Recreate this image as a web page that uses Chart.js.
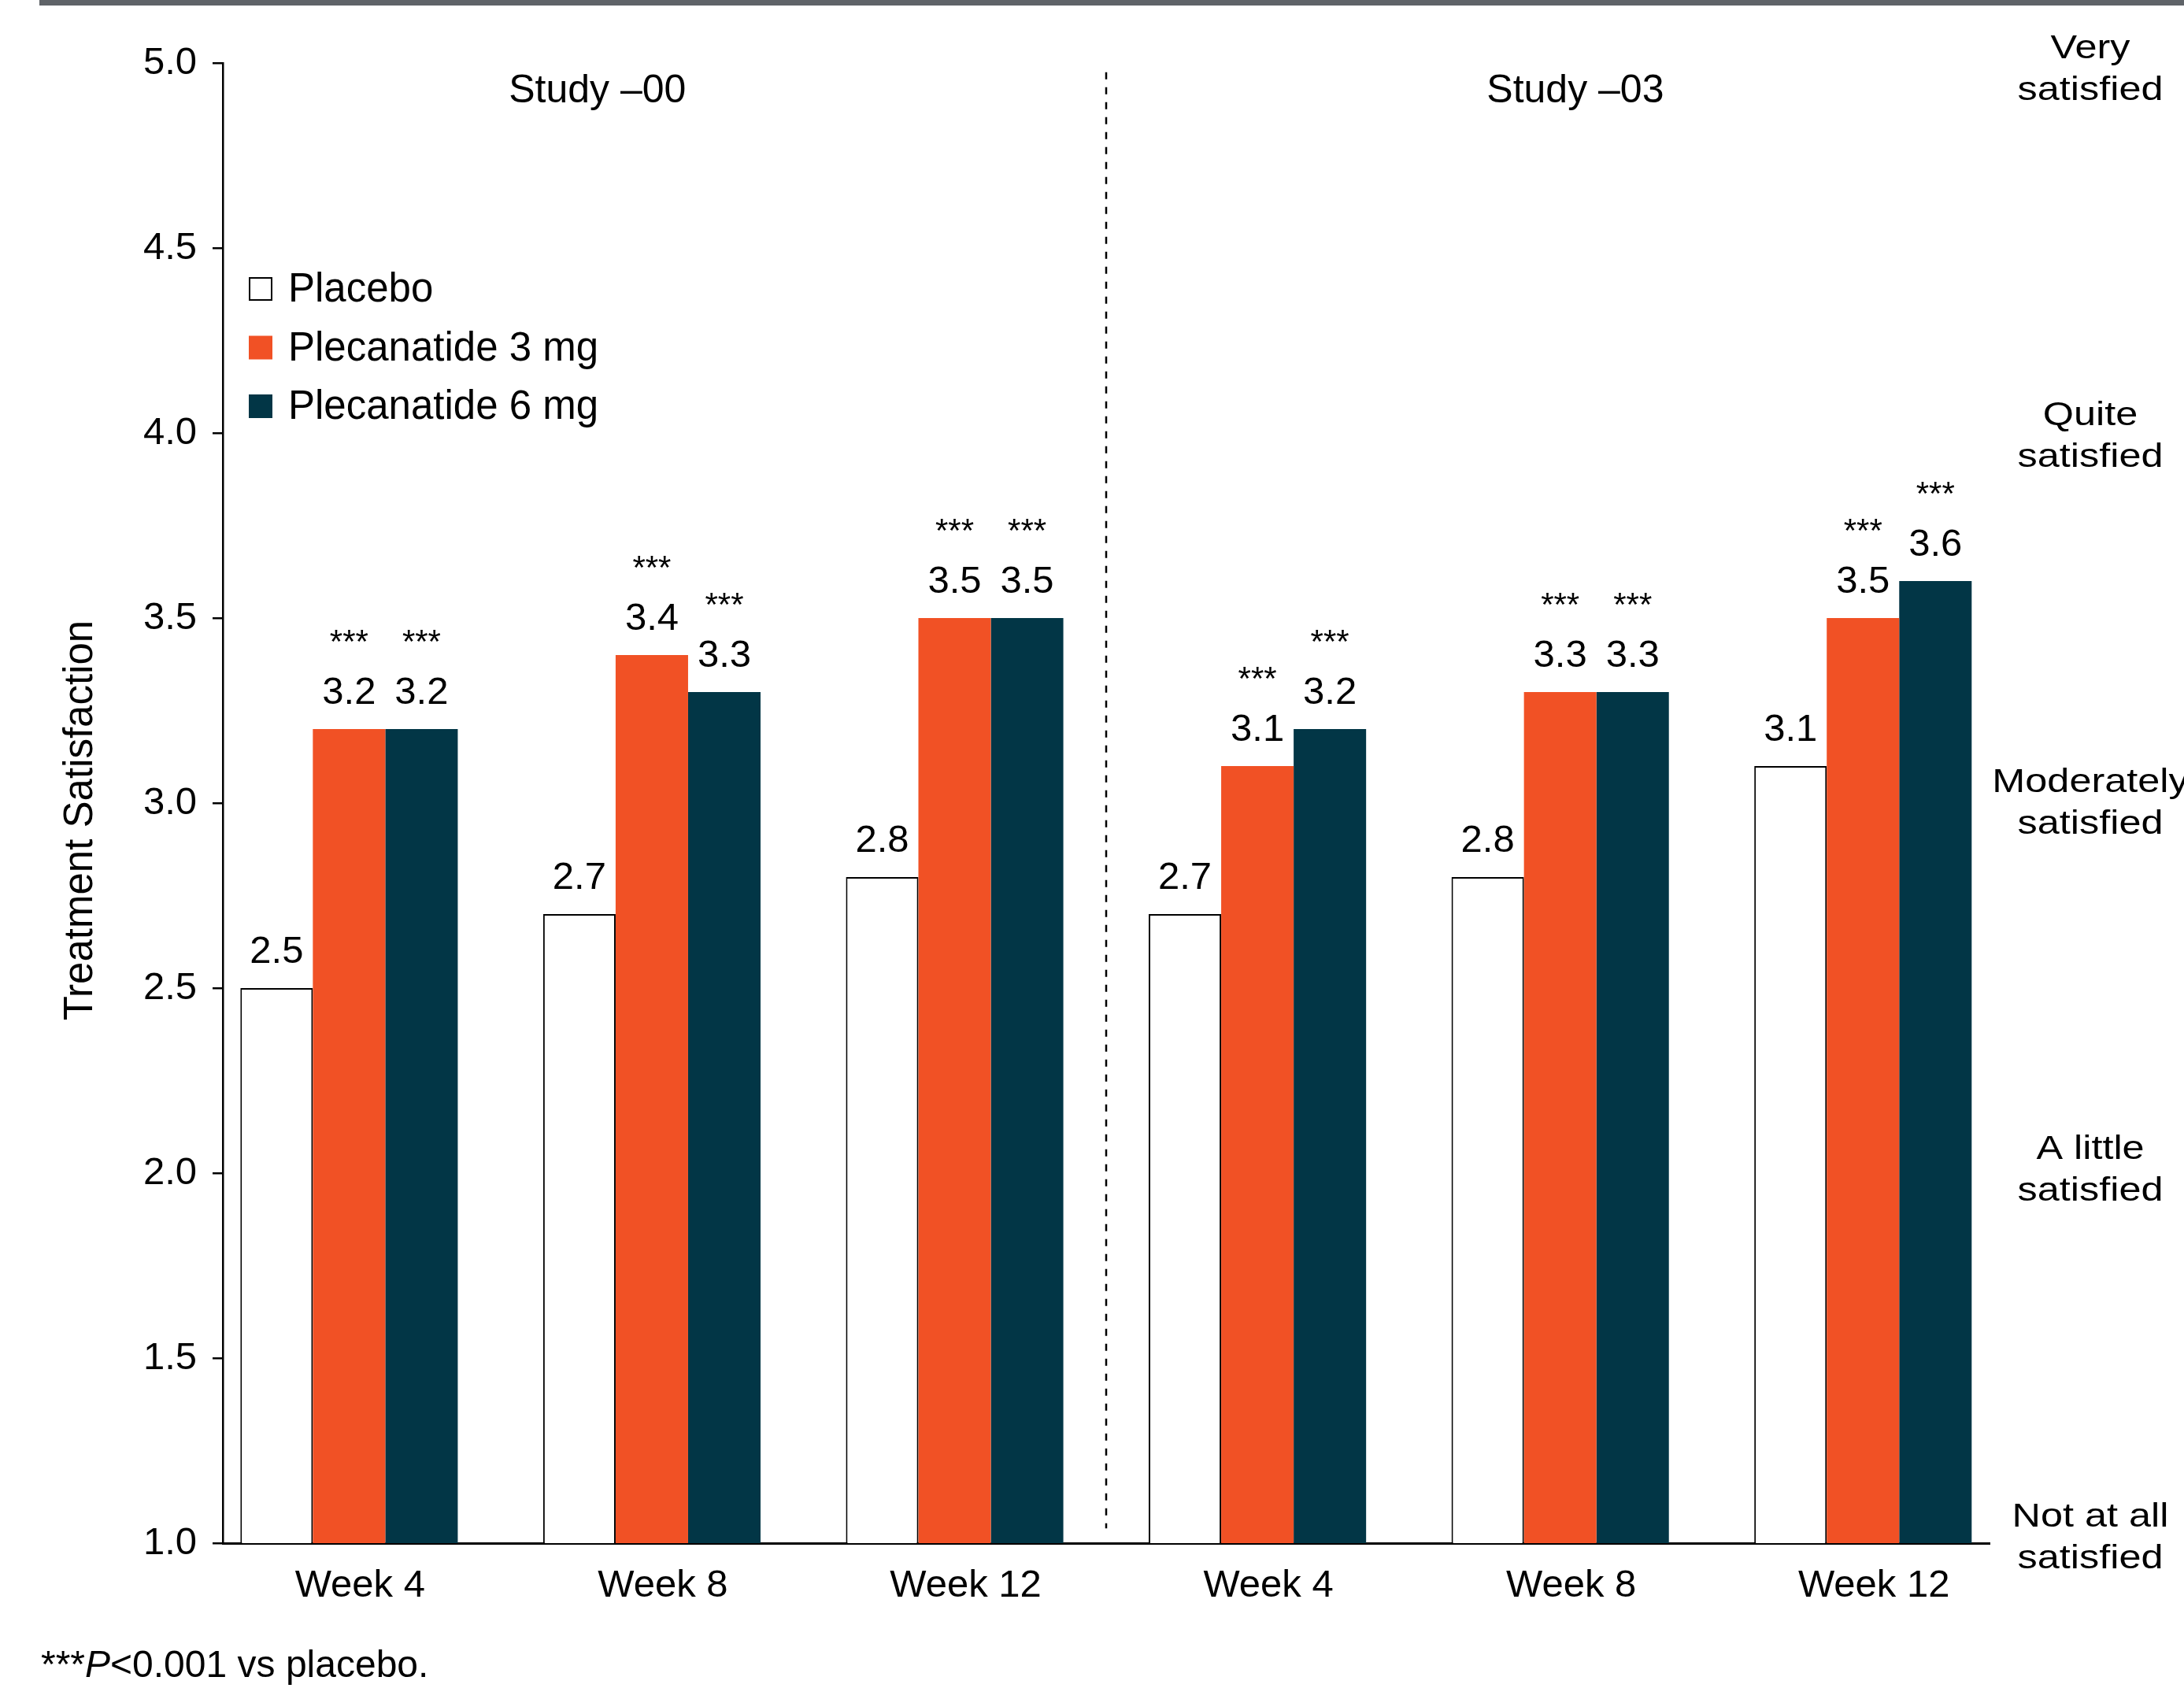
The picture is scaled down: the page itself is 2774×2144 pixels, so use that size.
<!DOCTYPE html>
<html>
<head>
<meta charset="utf-8">
<title>Treatment Satisfaction</title>
<script src="https://cdn.jsdelivr.net/npm/chart.js@4/dist/chart.umd.min.js"></script>
<style>
  html, body { margin: 0; padding: 0; background: #ffffff; }
  canvas { display: block; }
</style>
</head>
<body>
<canvas id="chart" width="2774" height="2144"></canvas>
<script>
// ---- Data -------------------------------------------------------------
const weekLabels   = ['Week 4', 'Week 8', 'Week 12', 'Week 4', 'Week 8', 'Week 12'];
const studyLabels  = ['Study \u201300', 'Study \u201303'];
const seriesNames  = ['Placebo', 'Plecanatide 3 mg', 'Plecanatide 6 mg'];

const placebo      = [2.5, 2.7, 2.8, 2.7, 2.8, 3.1];
const plecanatide3 = [3.2, 3.4, 3.5, 3.1, 3.3, 3.5];
const plecanatide6 = [3.2, 3.3, 3.5, 3.2, 3.3, 3.6];

// *** P<0.001 vs placebo
const placeboSig   = [false, false, false, false, false, false];
const pleca3Sig    = [true, true, true, true, true, true];
const pleca6Sig    = [true, true, true, true, true, true];

const yTickValues  = [1.0, 1.5, 2.0, 2.5, 3.0, 3.5, 4.0, 4.5, 5.0];
const levelValues  = [5, 4, 3, 2, 1];
const levelLabels  = [
  ['Very', 'satisfied'],
  ['Quite', 'satisfied'],
  ['Moderately', 'satisfied'],
  ['A little', 'satisfied'],
  ['Not at all', 'satisfied']
];

// ---- Look -------------------------------------------------------------
const FONT = "'Liberation Sans', Arial, Helvetica, sans-serif";
const ORANGE = '#F15125';
const TEAL = '#023646';
const studyHeaderAt = [0.82, 4.05];   // header centres, in x-scale units
const dividerAt = 2.5;                // between the two studies

const toPoints = arr => arr.map((v, i) => ({ x: i, y: v }));

const decor = {
  id: 'decor',
  beforeDraw(chart) {
    const ctx = chart.ctx;
    ctx.save();
    ctx.fillStyle = '#ffffff';
    ctx.fillRect(0, 0, chart.width, chart.height);
    // header rule
    ctx.fillStyle = '#5f6368';
    ctx.fillRect(50, 0, chart.width - 50, 7);
    ctx.restore();
  },
  afterDatasetsDraw(chart) {
    const { ctx, chartArea, scales: { x, y } } = chart;
    ctx.save();
    ctx.fillStyle = '#000';

    // value-axis title
    ctx.save();
    ctx.translate(103, (chartArea.top + chartArea.bottom) / 2 + 22);
    ctx.rotate(-Math.PI / 2);
    ctx.textAlign = 'center';
    ctx.textBaseline = 'middle';
    ctx.font = `51px ${FONT}`;
    ctx.fillText('Treatment Satisfaction', 0, 0);
    ctx.restore();

    // dashed divider between studies
    const dx = Math.round(x.getPixelForValue(dividerAt));
    ctx.strokeStyle = '#000';
    ctx.lineWidth = 2.5;
    ctx.setLineDash([9, 10]);
    ctx.beginPath();
    ctx.moveTo(dx, y.getPixelForValue(4.975));
    ctx.lineTo(dx, y.getPixelForValue(1.04));
    ctx.stroke();
    ctx.setLineDash([]);

    // study headers
    ctx.textAlign = 'center';
    ctx.textBaseline = 'alphabetic';
    ctx.font = `50px ${FONT}`;
    studyLabels.forEach((t, i) => ctx.fillText(t, x.getPixelForValue(studyHeaderAt[i]), 130));

    // value labels and significance marks
    chart.data.datasets.forEach((ds, di) => {
      const meta = chart.getDatasetMeta(di);
      meta.data.forEach((bar, i) => {
        const v = ds.data[i].y;
        ctx.font = `49px ${FONT}`;
        ctx.fillText(v.toFixed(1), bar.x, bar.y - 32);
        if (ds.sig && ds.sig[i]) {
          ctx.font = `42px ${FONT}`;
          ctx.fillText('***', bar.x, bar.y - 97);
        }
      });
    });

    // legend
    ctx.textAlign = 'left';
    ctx.font = `51px ${FONT}`;
    chart.data.datasets.forEach((ds, di) => {
      const base = 383 + di * 74.5;
      const sx = 316, sy = base - 31, s = 30;
      ctx.fillStyle = ds.backgroundColor;
      ctx.fillRect(sx, sy, s, s);
      if (ds.borderWidth) {
        ctx.strokeStyle = ds.borderColor;
        ctx.lineWidth = 2;
        ctx.strokeRect(sx + 1, sy + 1, s - 2, s - 2);
      }
      ctx.fillStyle = '#000';
      ctx.fillText(ds.label, 366, base);
    });

    // satisfaction levels beside the value axis
    ctx.textAlign = 'center';
    ctx.font = `42px ${FONT}`;
    const cx = chartArea.right + 128;
    levelValues.forEach((v, i) => {
      const py = y.getPixelForValue(v) - 14 + (v - 3) * 3.75;
      levelLabels[i].forEach((line, li) => {
        ctx.save();
        ctx.translate(cx, py + li * 53);
        ctx.scale(1.2, 1);
        ctx.fillText(line, 0, 0);
        ctx.restore();
      });
    });

    // footnote
    ctx.textAlign = 'left';
    let fx = 52;
    const fy = 2130;
    const parts = [['***', ''], ['P', 'italic '], ['<0.001 vs placebo.', '']];
    parts.forEach(([txt, style]) => {
      ctx.font = `${style}48px ${FONT}`;
      ctx.fillText(txt, fx, fy);
      fx += ctx.measureText(txt).width;
    });

    ctx.restore();
  }
};

new Chart(document.getElementById('chart'), {
  type: 'bar',
  data: {
    datasets: [
      { label: seriesNames[0], data: toPoints(placebo), sig: placeboSig,
        backgroundColor: '#ffffff', borderColor: '#000000', borderWidth: 2, borderSkipped: 'start' },
      { label: seriesNames[1], data: toPoints(plecanatide3), sig: pleca3Sig,
        backgroundColor: ORANGE, borderWidth: 0 },
      { label: seriesNames[2], data: toPoints(plecanatide6), sig: pleca6Sig,
        backgroundColor: TEAL, borderWidth: 0 }
    ]
  },
  options: {
    responsive: false,
    animation: false,
    devicePixelRatio: 1,
    categoryPercentage: 0.718,
    barPercentage: 1.0,
    layout: { padding: { top: 80, right: 247, bottom: 0, left: 0 } },
    plugins: { legend: { display: false }, tooltip: { enabled: false } },
    scales: {
      x: {
        type: 'linear',
        min: -0.417,
        max: 5.418,
        offset: false,
        z: 1,
        afterBuildTicks: s => { s.ticks = weekLabels.map((_, i) => ({ value: i })); },
        afterFit: s => { s.height = 184; },
        grid: { display: false, drawTicks: false, offset: false },
        border: { display: true, color: '#000', width: 3 },
        ticks: {
          autoSkip: false, maxRotation: 0, minRotation: 0,
          padding: 25, labelOffset: 14, color: '#000',
          font: { family: FONT, size: 49 },
          callback: v => weekLabels[v] ?? ''
        }
      },
      y: {
        min: 1,
        max: 5,
        z: 1,
        afterBuildTicks: s => { s.ticks = yTickValues.map(v => ({ value: v })); },
        afterFit: s => { s.width = 283; },
        grid: { drawOnChartArea: false, drawTicks: true, tickLength: 13, color: '#000', lineWidth: 2.5 },
        border: { display: true, color: '#000', width: 2.5 },
        ticks: {
          padding: 20, color: '#000',
          font: { family: FONT, size: 49 },
          callback: v => Number(v).toFixed(1)
        }
      }
    }
  },
  plugins: [decor]
});
</script>
</body>
</html>
